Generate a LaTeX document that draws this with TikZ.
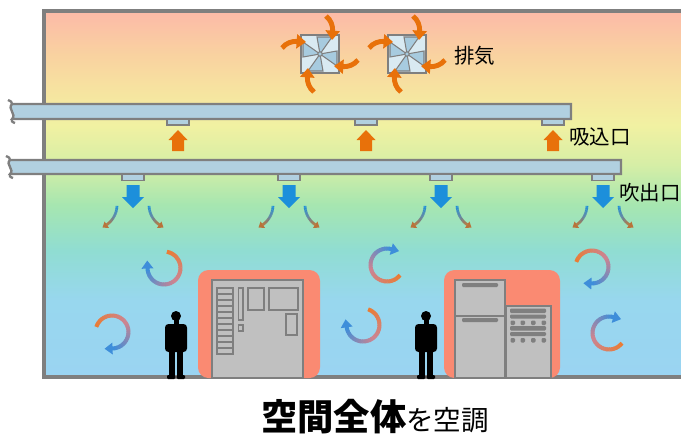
\documentclass[tikz,border=0pt]{standalone}
\usepackage{fontspec}
\newfontfamily\jp{Noto Sans CJK JP}
\usetikzlibrary{arrows.meta}

\definecolor{wallgray}{HTML}{7F7F7F}
\definecolor{ductblue}{HTML}{B1D0E0}
\definecolor{fanface}{HTML}{D9EAF2}
\definecolor{bladeblue}{HTML}{A7CBDF}
\definecolor{fanorange}{HTML}{E8710A}
\definecolor{flowblue}{HTML}{1C8FDB}
\definecolor{flowmid}{HTML}{5E88A8}
\definecolor{flowbrown}{HTML}{B8733A}
\definecolor{swirlorange}{HTML}{EA7C34}
\definecolor{swirlmid}{HTML}{CC8490}
\definecolor{swirlblue}{HTML}{3E8EDA}
\definecolor{heatred}{HTML}{FA8A72}
\definecolor{bodygray}{HTML}{C0C0C0}
% air colours, floor to ceiling
\definecolor{airA}{HTML}{9AD4F2}
\definecolor{airB}{HTML}{98D7EE}
\definecolor{airC}{HTML}{90DDD2}
\definecolor{airD}{HTML}{A6E6B0}
\definecolor{airE}{HTML}{D6EEA6}
\definecolor{airF}{HTML}{F1F1A2}
\definecolor{airG}{HTML}{F6E3A0}
\definecolor{airH}{HTML}{F9D2A0}
\definecolor{airI}{HTML}{FCBAA8}
\pgfdeclareverticalshading{roomair}{100bp}{color(0bp)=(airA); color(25bp)=(airA); color(35.5bp)=(airB); color(42.3bp)=(airC); color(48.5bp)=(airD); color(54bp)=(airE); color(59.4bp)=(airF); color(64.2bp)=(airG); color(69bp)=(airH); color(75bp)=(airI); color(100bp)=(airI)}

\tikzstyle{wall} = [draw=wallgray, line width=2.6pt]
\tikzstyle{duct} = [draw=wallgray, fill=ductblue, line width=2pt]
\tikzstyle{ductend} = [draw=wallgray, line width=2pt]
\tikzstyle{vent} = [draw=wallgray, fill=ductblue, line width=1.6pt]
\tikzstyle{fanbox} = [draw=wallgray, fill=fanface, line width=2.2pt]
\tikzstyle{blade} = [draw=wallgray, fill=bladeblue, line width=0.9pt]
\tikzstyle{fanarrow} = [draw=fanorange, line width=4.2pt, -{Triangle[length=8pt,width=12pt]}]
\tikzstyle{heat} = [fill=heatred, rounded corners=9pt]
\tikzstyle{machine} = [draw=wallgray, fill=bodygray, line width=2pt]
\tikzstyle{part} = [draw=wallgray, line width=1.6pt]
\tikzstyle{knob} = [fill=wallgray, rounded corners=1pt]
\tikzstyle{airtext} = [font=\jp\fontsize{17.5}{20}\selectfont, inner sep=0pt, anchor=west]

% arc whose colour runs #6 -> #7 -> #8, tip at the end
% #1,#2 centre, #3 radius, #4 -> #5 angles, #9 width
\newcommand{\gradarc}[9]{%
  \foreach \k in {0,...,29}{%
    \pgfmathsetmacro{\aa}{(#4)+((#5)-(#4))*\k/30}%
    \pgfmathsetmacro{\ab}{(#4)+((#5)-(#4))*(\k+1.2)/30}%
    \ifnum\k<15
      \pgfmathtruncatemacro{\mixp}{100-\k*100/14}%
      \def\segcol{#6!\mixp!#7}%
    \else
      \pgfmathtruncatemacro{\mixp}{100-(\k-15)*100/14}%
      \def\segcol{#7!\mixp!#8}%
    \fi
    \draw[line width=#9*0.03cm, draw=\segcol] ([shift={(\aa:#3)}]#1,#2) arc[start angle=\aa, end angle=\ab, radius=#3];
  }%
  \pgfmathsetmacro{\hd}{((#5)>(#4)) ? 1 : -1}%
  \fill[#8, shift={(#1,#2)}, rotate=#5] (#3-1.5*#9,0) -- (#3+1.5*#9,0) -- (#3,\hd*2*#9) -- cycle;
}

% exhaust fan in the ceiling
\newcommand{\fan}[2]{%
  \begin{scope}[shift={(#1,#2)}]
    \draw[fanbox] (-19,-19) rectangle (19,19);
    \foreach \r in {0,90,180,270}
      \draw[blade, rotate=\r] (0,0) -- (-3,-17) -- (12,-17) -- cycle;
    \draw[blade] (0,0) circle (2.2);
    \foreach \r in {0,90,180,270}
      \draw[fanarrow, rotate=\r] (6,-38) .. controls (11,-34) and (13,-28) .. (12,-14);
  \end{scope}}

% return grille on the upper duct
\newcommand{\intake}[1]{%
  \draw[vent] (#1-11,119) rectangle (#1+11,125);
  \fill[fanorange] (#1-6,151) -- (#1-6,140) -- (#1-9.5,140) -- (#1,130) -- (#1+9.5,140) -- (#1+6,140) -- (#1+6,151) -- cycle;}

% supply grille on the lower duct
\newcommand{\outlet}[1]{%
  \draw[vent] (#1-11,174) rectangle (#1+11,180.5);
  \fill[flowblue] (#1-6.5,185) -- (#1+6.5,185) -- (#1+6.5,197) -- (#1+11,197) -- (#1,208) -- (#1-11,197) -- (#1-6.5,197) -- cycle;
  \gradarc{#1-40}{205}{24}{2}{55}{flowblue}{flowmid}{flowbrown}{2.6}
  \gradarc{#1+40}{205}{24}{178}{125}{flowblue}{flowmid}{flowbrown}{2.6}}

\newcommand{\person}[1]{%
  \begin{scope}[shift={(#1,378)}]
    \fill (0,-62) circle (5);
    \fill (-2.5,-58) rectangle (2.5,-52);
    \fill[rounded corners=3pt] (-11,-54) rectangle (11,-26);
    \fill (-7,-30) rectangle (-0.7,-1);
    \fill (0.7,-30) rectangle (7,-1);
    \fill[rounded corners=1pt] (-9,-3) rectangle (-0.7,1);
    \fill[rounded corners=1pt] (0.7,-3) rectangle (9,1);
  \end{scope}}

\begin{document}
\begin{tikzpicture}[x=0.03cm, y=0.03cm, yscale=-1]
\useasboundingbox (0,0) rectangle (681,434);

% room
\shade[shading=roomair] (44,11) rectangle (700,377);
\draw[wall] (700,11) -- (44,11) -- (44,377) -- (700,377);

% ducts, broken off on the left
\draw[duct] (12,104) -- (571,104) -- (571,119) -- (12,119) .. controls (17,114) and (7,109) .. (12,104) -- cycle;
\draw[ductend] (8,100) .. controls (11,101) and (12,102) .. (12,104);
\draw[ductend] (12,119) .. controls (11,121) and (12,122) .. (15,123);
\draw[duct] (10,160) -- (621,160) -- (621,174) -- (10,174) .. controls (15,169.5) and (5,164.5) .. (10,160) -- cycle;
\draw[ductend] (6,156) .. controls (9,157) and (10,158) .. (10,160);
\draw[ductend] (10,174) .. controls (9,176) and (10,177) .. (13,178);

\intake{178}
\intake{366}
\intake{553}

\outlet{133}
\outlet{289}
\outlet{441}
\outlet{603}

% exhaust
\fan{320}{54}
\fan{407}{54}

% room air circulation
\gradarc{164}{268}{16.5}{-80}{178}{swirlorange}{swirlmid}{swirlblue}{4}
\gradarc{112}{332}{16.5}{-162}{88}{swirlorange}{swirlmid}{swirlblue}{4}
\gradarc{387}{265}{16.5}{38}{285}{swirlorange}{swirlmid}{swirlblue}{4}
\gradarc{363}{325}{16.5}{-72}{172}{swirlorange}{swirlmid}{swirlblue}{4}
\gradarc{592}{267}{16.5}{-162}{92}{swirlorange}{swirlmid}{swirlblue}{4}
\gradarc{609}{333}{16.5}{38}{285}{swirlorange}{swirlmid}{swirlblue}{4}

% machine 1
\fill[heat] (198,270) rectangle (320,378);
\draw[machine] (212,280) rectangle (303,378);
\draw[part] (217,288) rectangle (233,354);
\foreach \y in {294,300,...,348}
  \draw[part] (217,\y) -- (233,\y);
\draw[part] (238.5,288) rectangle (243,320);
\draw[part] (238.5,325) rectangle (243,331);
\draw[part] (248,288) rectangle (264,310);
\draw[part] (269,288) rectangle (298,310);
\draw[part] (286,314) rectangle (297,335);

% machine 2
\fill[heat] (444,270) rectangle (560,378);
\draw[machine] (455,280) rectangle (505,316);
\draw[machine] (455,316) rectangle (505,378);
\fill[knob] (462,283) rectangle (498,287);
\fill[knob] (462,318) rectangle (498,322);
\draw[machine] (506,306) rectangle (551,378);
\fill[knob] (510,308.5) rectangle (546,313);
\fill[knob] (510,314.5) rectangle (546,318.5);
\fill[knob] (510,326) rectangle (546,330.5);
\fill[knob] (510,332) rectangle (546,336);
\foreach \x in {510.5,520.5,531,541.5} {
  \fill[knob] (\x,320.5) rectangle (\x+4.5,325);
  \fill[knob] (\x,338) rectangle (\x+4.5,342.5);
}

% people
\person{176}
\person{426}

% labels
\node[airtext] (exhaust) at (454,56) {排気};
\node[airtext] (intake) at (569,137) {吸込口};
\node[airtext] (outlet) at (619,193) {吹出口};
\node[anchor=base, inner sep=0pt, font=\jp] (title) at (375,430)
  {{\fontsize{31}{36}\selectfont\bfseries 空間全体}{\fontsize{23.5}{28}\selectfont を空調}};

\end{tikzpicture}
\end{document}
